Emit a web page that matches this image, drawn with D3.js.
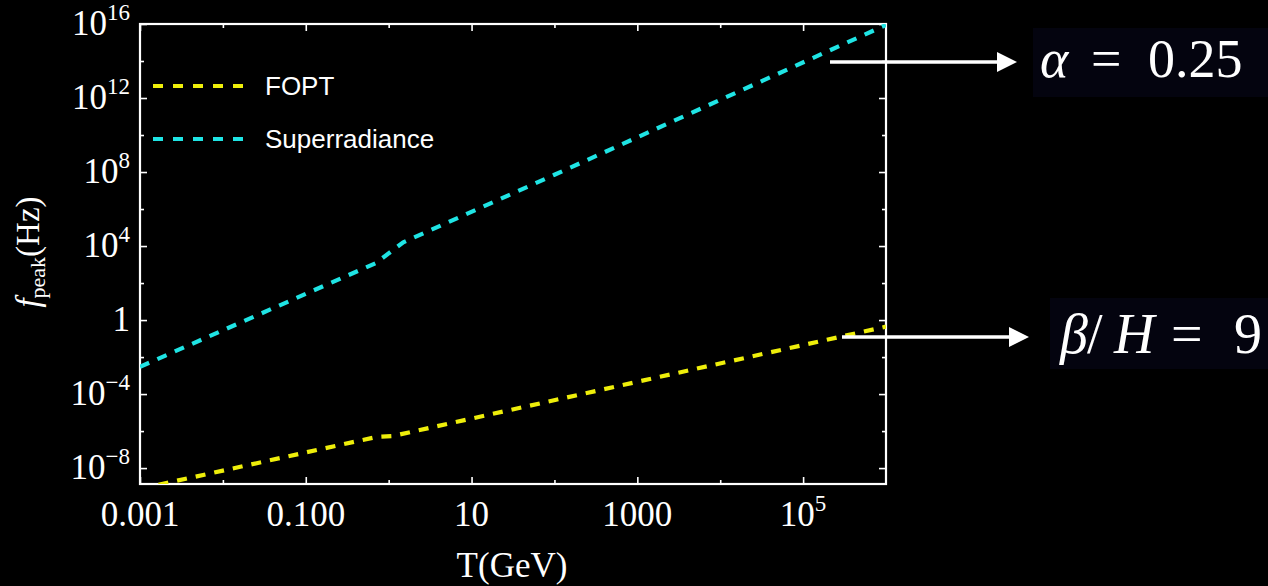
<!DOCTYPE html>
<html>
<head>
<meta charset="utf-8">
<script src="https://cdn.jsdelivr.net/npm/d3@7"></script>
<style>
  html, body { margin: 0; padding: 0; background: #000; }
  svg { display: block; }
</style>
</head>
<body>
<div id="chart"></div>
<script>
// data (T in GeV, f in Hz)
const foptT = [1e-3, 0.71, 1.12, 1e6];
const foptF = [7.6e-10, 4.8e-7, 5.4e-7, 0.44];
const superT = [1e-3, 0.7, 1.5, 100, 1e6];
const superF = [3.0e-3, 1.2e3, 1.6e4, 7.1e7, 8.9e15];

// ticks: [value, mantissa text, exponent text]
const xMajor = [[1e-3, '0.001', ''], [0.1, '0.100', ''], [10, '10', ''], [1000, '1000', ''], [1e5, '10', '5']];
const xMinor = [1e-2, 1, 100, 1e4];
const yMajor = [[1e16, '10', '16'], [1e12, '10', '12'], [1e8, '10', '8'], [1e4, '10', '4'],
                [1, '1', ''], [1e-4, '10', '\u22124'], [1e-8, '10', '\u22128']];
const yMinor = [1e14, 1e10, 1e6, 1e2, 1e-2, 1e-6];

const legendItems = [['FOPT', '#eeee0a'], ['Superradiance', '#1fe4e4']];

const W = 1268, H = 586;
const box = { left: 140, right: 886, top: 24, bottom: 484 };

const svg = d3.select('#chart').append('svg')
  .attr('width', W).attr('height', H);

svg.append('rect').attr('width', W).attr('height', H).attr('fill', '#000');

// Escalas
const x = d3.scaleLog().domain([1e-3, 1e6]).range([box.left, box.right]);
const y = d3.scaleLog().domain([Math.pow(10, -8.86), 1e16]).range([box.bottom, box.top]);

const serif = '"Liberation Serif", "Times New Roman", serif';

// clip
svg.append('clipPath').attr('id', 'clip')
  .append('rect')
  .attr('x', box.left).attr('y', box.top)
  .attr('width', box.right - box.left).attr('height', box.bottom - box.top);

// ticks (inward, on all four sides)
function tickAxis(axis, transform) {
  const g = svg.append('g').attr('transform', transform).call(axis);
  g.select('.domain').remove();
  g.selectAll('line').attr('stroke', '#fff').attr('stroke-width', 1.6);
  return g;
}
const xMajVals = xMajor.map(d => d[0]);
const yMajVals = yMajor.map(d => d[0]);

tickAxis(d3.axisBottom(x).tickValues(xMajVals).tickSize(-7).tickFormat(''), `translate(0,${box.bottom})`);
tickAxis(d3.axisBottom(x).tickValues(xMinor).tickSize(-4).tickFormat(''), `translate(0,${box.bottom})`);
tickAxis(d3.axisTop(x).tickValues(xMajVals).tickSize(-7).tickFormat(''), `translate(0,${box.top})`);
tickAxis(d3.axisTop(x).tickValues(xMinor).tickSize(-4).tickFormat(''), `translate(0,${box.top})`);
tickAxis(d3.axisLeft(y).tickValues(yMajVals).tickSize(-7).tickFormat(''), `translate(${box.left},0)`);
tickAxis(d3.axisLeft(y).tickValues(yMinor).tickSize(-4).tickFormat(''), `translate(${box.left},0)`);
tickAxis(d3.axisRight(y).tickValues(yMajVals).tickSize(-7).tickFormat(''), `translate(${box.right},0)`);
tickAxis(d3.axisRight(y).tickValues(yMinor).tickSize(-4).tickFormat(''), `translate(${box.right},0)`);

// frame
svg.append('rect')
  .attr('x', box.left).attr('y', box.top)
  .attr('width', box.right - box.left).attr('height', box.bottom - box.top)
  .attr('fill', 'none').attr('stroke', '#fff').attr('stroke-width', 2.2);

// tick labels
const xl = svg.selectAll('.xlab').data(xMajor).enter().append('text')
  .attr('class', 'xlab')
  .attr('x', d => x(d[0])).attr('y', 526)
  .attr('text-anchor', 'middle')
  .attr('fill', '#fff').attr('font-family', serif).attr('font-size', 35);
xl.append('tspan').text(d => d[1]);
xl.append('tspan').attr('dy', -15).attr('font-size', 23).text(d => d[2]);

const yl = svg.selectAll('.ylab').data(yMajor).enter().append('text')
  .attr('class', 'ylab')
  .attr('x', 130).attr('y', d => y(d[0]) + 11)
  .attr('text-anchor', 'end')
  .attr('fill', '#fff').attr('font-family', serif).attr('font-size', 35);
yl.append('tspan').text(d => d[1]);
yl.append('tspan').attr('dy', -15).attr('font-size', 23).text(d => d[2]);

// axis titles
svg.append('text')
  .attr('x', 512).attr('y', 577)
  .attr('text-anchor', 'middle')
  .attr('fill', '#fff').attr('font-family', serif).attr('font-size', 35)
  .text('T(GeV)');

const yt = svg.append('text')
  .attr('transform', 'translate(39,252) rotate(-90)')
  .attr('text-anchor', 'middle')
  .attr('fill', '#fff').attr('font-family', serif).attr('font-size', 33);
yt.append('tspan').attr('font-style', 'italic').text('f');
yt.append('tspan').attr('dy', 6).attr('font-size', 22).text('peak');
yt.append('tspan').attr('dy', -6).text('(Hz)');

// curves
const line = d3.line().x(d => x(d[0])).y(d => y(d[1]));
const series = [
  { pts: d3.zip(foptT, foptF), color: legendItems[0][1] },
  { pts: d3.zip(superT, superF), color: legendItems[1][1] }
];
svg.append('g').attr('clip-path', 'url(#clip)')
  .selectAll('path').data(series).enter().append('path')
  .attr('d', d => line(d.pts))
  .attr('fill', 'none')
  .attr('stroke', d => d.color)
  .attr('stroke-width', 4.2)
  .attr('stroke-dasharray', '10,9');

// legend
const lg = svg.selectAll('.leg').data(legendItems).enter().append('g')
  .attr('class', 'leg')
  .attr('transform', (d, i) => `translate(0,${86 + i * 53})`);
lg.append('line')
  .attr('x1', 153).attr('x2', 243).attr('y1', 0).attr('y2', 0)
  .attr('stroke', d => d[1]).attr('stroke-width', 4.2)
  .attr('stroke-dasharray', '10,10');
lg.append('text')
  .attr('x', 265).attr('y', 9)
  .attr('fill', '#fff')
  .attr('font-family', '"Liberation Sans", Arial, sans-serif').attr('font-size', 26)
  .text(d => d[0]);

// annotations with arrows
svg.append('defs').append('marker')
  .attr('id', 'head')
  .attr('viewBox', '0 0 10 10')
  .attr('refX', 0).attr('refY', 5)
  .attr('markerUnits', 'userSpaceOnUse')
  .attr('markerWidth', 24).attr('markerHeight', 20)
  .attr('orient', 'auto')
  .append('path').attr('d', 'M0,0L10,5L0,10Z').attr('fill', '#fff');

const notes = [
  { x1: 830, x2: 997, yy: 62, bx: 1033, by: 28, bw: 235, bh: 69 },
  { x1: 842, x2: 1009, yy: 337, bx: 1050, by: 298, bw: 218, bh: 71 }
];
notes.forEach(n => {
  svg.append('line')
    .attr('x1', n.x1).attr('x2', n.x2).attr('y1', n.yy).attr('y2', n.yy)
    .attr('stroke', '#fff').attr('stroke-width', 3.3)
    .attr('marker-end', 'url(#head)');
  svg.append('rect')
    .attr('x', n.bx).attr('y', n.by).attr('width', n.bw).attr('height', n.bh)
    .attr('fill', '#04040f');
});

// each piece of the formula placed like the typeset original
const alphaParts = [['\u03b1', 1040, 'italic'], ['=', 1091, 'normal'], ['0.25', 1148, 'normal']];
const betaParts = [['\u03b2', 1060, 'italic'], ['/', 1087, 'normal'], ['H', 1114, 'italic'],
                   ['=', 1171, 'normal'], ['9', 1234, 'normal']];

function formula(parts, baseline, size) {
  const t = svg.append('text')
    .attr('y', baseline)
    .attr('fill', '#fff').attr('font-family', serif).attr('font-size', size);
  t.selectAll('tspan').data(parts).enter().append('tspan')
    .attr('x', d => d[1])
    .attr('font-style', d => d[2])
    .text(d => d[0]);
}
formula(alphaParts, 77, 54);
formula(betaParts, 353, 56);
</script>
</body>
</html>
